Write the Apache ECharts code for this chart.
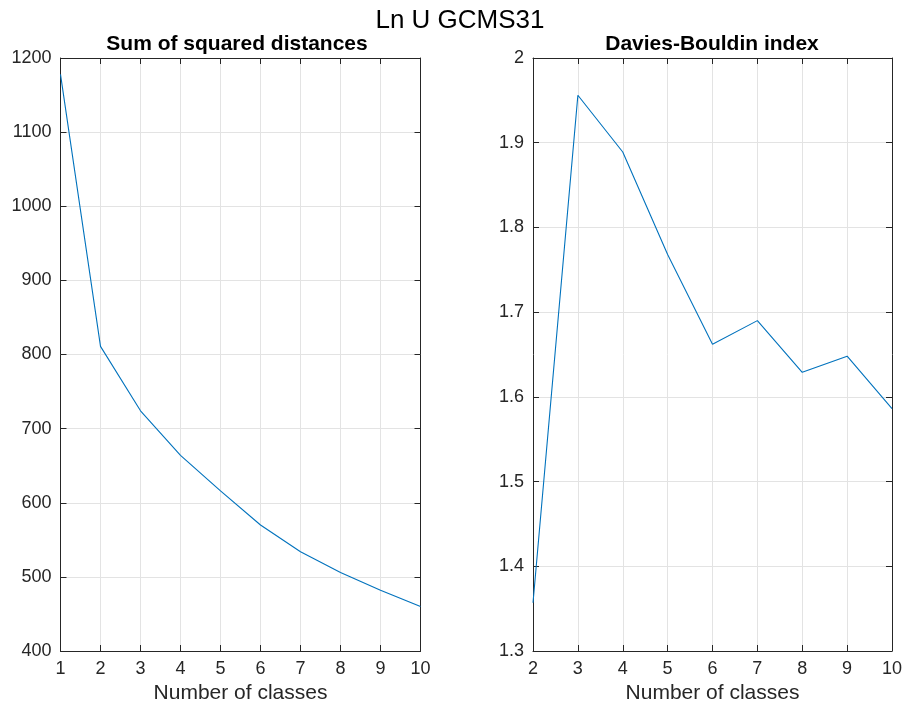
<!DOCTYPE html>
<html>
<head>
<meta charset="utf-8">
<script src="https://cdn.jsdelivr.net/npm/echarts@6.0.0/dist/echarts.min.js"></script>
<style>
  html, body { margin: 0; padding: 0; background: #fff; }
  #chart { width: 907px; height: 709px; }
</style>
</head>
<body>
<div id="chart"></div>
<script>
// Data
const classesSSD = [1, 2, 3, 4, 5, 6, 7, 8, 9, 10];
const ssdValues  = [1178, 811, 724, 664, 616, 570, 534, 506, 482, 460];

const classesDB = [2, 3, 4, 5, 6, 7, 8, 9, 10];
const dbValues  = [1.357, 1.956, 1.889, 1.768, 1.662, 1.690, 1.629, 1.648, 1.586];

const FONT = "'Liberation Sans', Arial, Helvetica, sans-serif";
const AXIS = '#262626';
const GRID = '#e3e3e3';
const LINE = '#0072BD';

const chart = echarts.init(document.getElementById('chart'));

/* MATLAB-ish box axes: labelled bottom/left, mirror ticks on top/right */
function xAxes(gridIndex, min, max, name) {
  const base = {
    type: 'value', gridIndex, min, max, interval: 1,
    axisLine: { show: true, lineStyle: { color: AXIS, width: 1 } },
    axisTick: { show: true, inside: true, length: 6, lineStyle: { color: AXIS } }
  };
  return [
    Object.assign({}, base, {
      position: 'bottom',
      name, nameLocation: 'middle', nameGap: 32,
      nameTextStyle: { fontFamily: FONT, fontSize: 21, color: AXIS },
      axisLabel: { fontFamily: FONT, fontSize: 18, color: AXIS, margin: 9 },
      splitLine: { show: true, lineStyle: { color: GRID, width: 1 } }
    }),
    Object.assign({}, base, {
      position: 'top',
      axisLabel: { show: false },
      splitLine: { show: false }
    })
  ];
}

function yAxes(gridIndex, min, max, interval, fmt) {
  const base = {
    type: 'value', gridIndex, min, max, interval,
    axisLine: { show: true, lineStyle: { color: AXIS, width: 1 } },
    axisTick: { show: true, inside: true, length: 6, lineStyle: { color: AXIS } }
  };
  return [
    Object.assign({}, base, {
      position: 'left',
      axisLabel: { fontFamily: FONT, fontSize: 18, color: AXIS, margin: 9, formatter: fmt },
      splitLine: { show: true, lineStyle: { color: GRID, width: 1 } }
    }),
    Object.assign({}, base, {
      position: 'right',
      axisLabel: { show: false },
      splitLine: { show: false }
    })
  ];
}

chart.setOption({
  animation: false,
  backgroundColor: '#fff',
  title: [
    {
      text: 'Ln U GCMS31', left: 455, top: 3, textAlign: 'center',
      textStyle: { fontFamily: FONT, fontSize: 26, fontWeight: 'normal', color: '#000' }
    },
    {
      text: 'Sum of squared distances', left: 232, top: 29, textAlign: 'center',
      textStyle: { fontFamily: FONT, fontSize: 21, fontWeight: 'bold', color: '#000' }
    },
    {
      text: 'Davies-Bouldin index', left: 707, top: 29, textAlign: 'center',
      textStyle: { fontFamily: FONT, fontSize: 21, fontWeight: 'bold', color: '#000' }
    }
  ],
  grid: [
    { left: 60.5, width: 360, top: 58, height: 594 },
    { left: 533, width: 359, top: 58, height: 594 }
  ],
  xAxis: [].concat(xAxes(0, 1, 10, 'Number of classes'), xAxes(1, 2, 10, 'Number of classes')),
  yAxis: [].concat(
    yAxes(0, 400, 1200, 100, v => String(Math.round(v))),
    yAxes(1, 1.3, 2, 0.1, v => String(Math.round(v * 10) / 10))
  ),
  series: [
    {
      type: 'line', xAxisIndex: 0, yAxisIndex: 0,
      data: classesSSD.map((c, i) => [c, ssdValues[i]]),
      showSymbol: false, lineStyle: { color: LINE, width: 1.1 }
    },
    {
      type: 'line', xAxisIndex: 2, yAxisIndex: 2,
      data: classesDB.map((c, i) => [c, dbValues[i]]),
      showSymbol: false, lineStyle: { color: LINE, width: 1.1 }
    }
  ]
});
</script>
</body>
</html>
